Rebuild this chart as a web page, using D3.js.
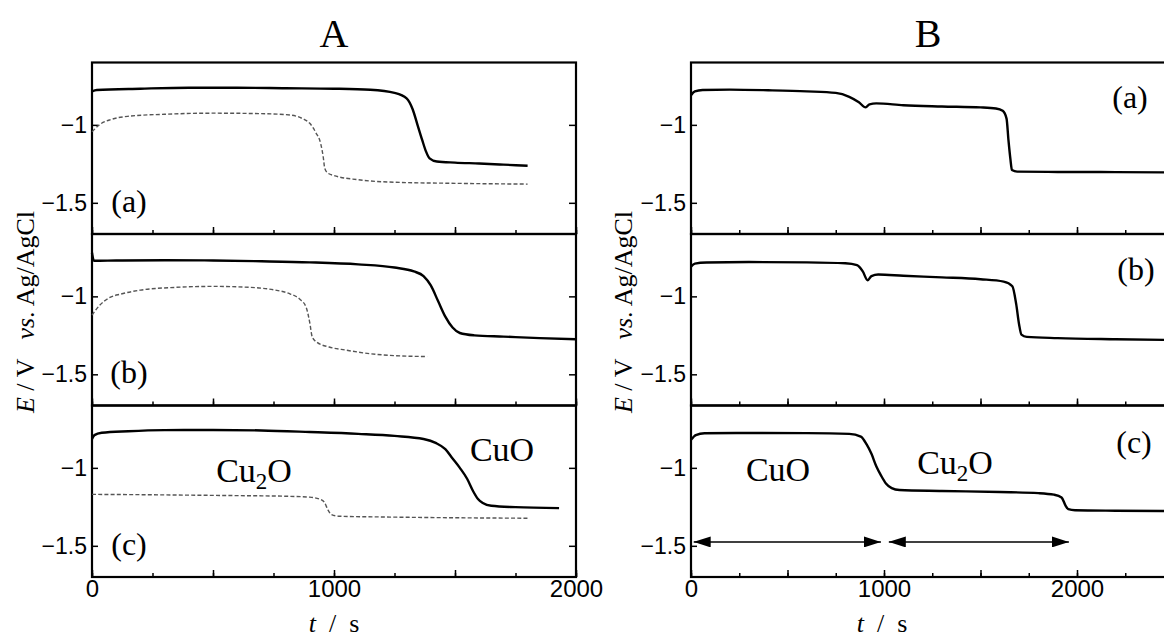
<!DOCTYPE html>
<html><head><meta charset="utf-8">
<script src="https://cdn.jsdelivr.net/npm/d3@7"></script>
<style>
body{margin:0;background:#fff;}
svg{display:block;}
</style></head>
<body><svg id="c" width="1164" height="641"></svg>
<script>
// ---- data (t in s, E in V vs Ag/AgCl) ----
const yTicks = [-1, -1.5];
const xTickLabels = [0, 1000, 2000];
const panelTitles = ["A", "B"];
const panelLetters = ["(a)", "(b)", "(c)"];

const A_a_solid = [[0,-0.785],[20,-0.776],[200,-0.768],[400,-0.762],[600,-0.762],[800,-0.765],[1000,-0.768],[1150,-0.775],[1250,-0.795],[1300,-0.83],[1325,-0.9],[1345,-1.0],[1365,-1.1],[1380,-1.17],[1395,-1.215],[1425,-1.235],[1500,-1.242],[1600,-1.248],[1700,-1.255],[1800,-1.262]];
const A_a_dash = [[0,-1.045],[30,-1.0],[80,-0.965],[150,-0.945],[300,-0.932],[500,-0.925],[700,-0.928],[820,-0.937],[870,-0.96],[900,-0.99],[925,-1.05],[945,-1.12],[955,-1.2],[962,-1.28],[975,-1.31],[1000,-1.325],[1100,-1.352],[1250,-1.368],[1500,-1.375],[1800,-1.38]];
const A_b_solid = [[0,-0.72],[8,-0.772],[100,-0.77],[300,-0.768],[500,-0.77],[700,-0.775],[900,-0.782],[1100,-0.795],[1250,-0.815],[1330,-0.84],[1370,-0.87],[1400,-0.93],[1430,-1.03],[1460,-1.13],[1490,-1.2],[1520,-1.235],[1580,-1.25],[1700,-1.258],[1850,-1.268],[2000,-1.275]];
const A_b_dash = [[0,-1.12],[30,-1.06],[70,-1.01],[120,-0.985],[200,-0.96],[350,-0.942],[500,-0.936],[650,-0.942],[750,-0.958],[820,-0.985],[860,-1.02],[885,-1.07],[900,-1.17],[910,-1.26],[930,-1.295],[980,-1.325],[1050,-1.345],[1150,-1.368],[1250,-1.38],[1385,-1.386]];
const A_c_solid = [[0,-0.815],[10,-0.79],[40,-0.775],[150,-0.765],[300,-0.758],[500,-0.757],[700,-0.76],[900,-0.77],[1100,-0.782],[1250,-0.795],[1370,-0.815],[1420,-0.84],[1460,-0.88],[1490,-0.94],[1520,-1.0],[1550,-1.07],[1575,-1.15],[1595,-1.2],[1615,-1.225],[1650,-1.243],[1750,-1.252],[1930,-1.258]];
const A_c_dash = [[0,-1.17],[200,-1.172],[400,-1.175],[600,-1.178],[800,-1.182],[900,-1.188],[940,-1.2],[960,-1.22],[975,-1.27],[990,-1.3],[1020,-1.31],[1200,-1.315],[1500,-1.32],[1800,-1.323]];
const B_a = [[0,-0.81],[20,-0.785],[60,-0.776],[200,-0.774],[400,-0.778],[600,-0.785],[750,-0.795],[820,-0.82],[870,-0.855],[905,-0.888],[925,-0.868],[960,-0.862],[1100,-0.874],[1300,-0.882],[1500,-0.888],[1580,-0.895],[1615,-0.91],[1635,-0.96],[1645,-1.1],[1655,-1.22],[1663,-1.29],[1690,-1.3],[1900,-1.302],[2200,-1.303],[2500,-1.305]];
const B_b = [[0,-0.81],[20,-0.79],[80,-0.783],[300,-0.78],[600,-0.782],[800,-0.788],[860,-0.8],[890,-0.84],[915,-0.897],[935,-0.87],[970,-0.86],[1100,-0.868],[1300,-0.878],[1500,-0.89],[1620,-0.905],[1665,-0.935],[1685,-1.05],[1700,-1.18],[1712,-1.245],[1740,-1.26],[1900,-1.268],[2200,-1.275],[2500,-1.28]];
const B_c = [[0,-0.82],[25,-0.79],[70,-0.778],[300,-0.776],[600,-0.777],[820,-0.782],[880,-0.8],[910,-0.85],[935,-0.91],[960,-0.99],[985,-1.05],[1010,-1.1],[1040,-1.13],[1080,-1.142],[1300,-1.148],[1600,-1.155],[1800,-1.162],[1880,-1.172],[1920,-1.19],[1940,-1.24],[1955,-1.265],[1990,-1.272],[2200,-1.275],[2500,-1.277]];
const B_arrows = [[14, 984], [1025, 1958]];
const B_arrowE = -1.475;

// ---- layout ----
const svg = d3.select("#c");
const SERIF = "'Liberation Serif','Times New Roman',serif";
const SANS = "'Liberation Sans',Arial,sans-serif";
const panelTop = [62.5, 234, 405.5];
const panelH = 171.5;
const xL = d3.scaleLinear().domain([0, 2000]).range([92, 576]);
const xR = d3.scaleLinear().domain([0, 2500]).range([691, 691 + 2500 * 0.193]);
const yScale = i => d3.scaleLinear().domain([-1.7, -0.6]).range([panelTop[i] + panelH, panelTop[i]]);
const fmtY = d3.format("~g");

svg.append("defs").append("marker")
  .attr("id", "ah").attr("viewBox", "0 0 17 11").attr("refX", 17).attr("refY", 5.5)
  .attr("markerWidth", 17).attr("markerHeight", 11).attr("markerUnits", "userSpaceOnUse")
  .attr("orient", "auto-start-reverse")
  .append("path").attr("d", "M0,0L17,5.5L0,11Z").attr("fill", "#000");

function drawPlot(x, series, dashes, letters, letterPos, rightTicks) {
  for (let i = 0; i < 3; i++) {
    const y = yScale(i);
    const g = svg.append("g");
    const minor = d3.range(0, x.domain()[1] + 1, 250);
    g.append("g").attr("transform", `translate(0,${panelTop[i] + panelH})`)
      .call(d3.axisBottom(x).tickValues(minor).tickSize(-4).tickFormat(""))
      .call(s => s.select(".domain").remove());
    const major = d3.range(0, x.domain()[1] + 1, 500);
    g.append("g").attr("transform", `translate(0,${panelTop[i] + panelH})`)
      .call(d3.axisBottom(x).tickValues(major).tickSize(-7).tickPadding(3)
        .tickFormat(d => (i === 2 && xTickLabels.includes(d)) ? d : ""))
      .call(s => s.select(".domain").remove())
      .call(s => s.selectAll("text").attr("font-family", SANS).attr("font-size", 24).attr("fill", "#000"));
    g.append("g").attr("transform", `translate(${x.range()[0]},0)`)
      .call(d3.axisLeft(y).tickValues(yTicks).tickSize(-6).tickPadding(5).tickFormat(fmtY))
      .call(s => s.select(".domain").remove())
      .call(s => s.selectAll("text").attr("font-family", SANS).attr("font-size", 23).attr("fill", "#000"));
    if (rightTicks) {
      g.append("g").attr("transform", `translate(${x.range()[1]},0)`)
        .call(d3.axisRight(y).tickValues(yTicks).tickSize(-7).tickFormat(""))
        .call(s => s.select(".domain").remove());
    }
    g.selectAll(".tick line").attr("stroke", "#000").attr("stroke-width", 1.5);
    g.append("rect").attr("x", x.range()[0]).attr("y", panelTop[i])
      .attr("width", x.range()[1] - x.range()[0]).attr("height", panelH)
      .attr("fill", "none").attr("stroke", "#000").attr("stroke-width", 2.2);
    const line = d3.line().x(d => x(d[0])).y(d => y(d[1])).curve(d3.curveMonotoneX);
    if (dashes && dashes[i]) {
      g.append("path").datum(dashes[i]).attr("d", line).attr("fill", "none")
        .attr("stroke", "#555").attr("stroke-width", 1.4).attr("stroke-dasharray", "4,2.2");
    }
    g.append("path").datum(series[i]).attr("d", line).attr("fill", "none")
      .attr("stroke", "#000").attr("stroke-width", 2.4).attr("stroke-linejoin", "round");
    g.append("text").attr("x", letterPos[i][0]).attr("y", letterPos[i][1])
      .attr("text-anchor", "middle").attr("font-family", SERIF).attr("font-size", 32)
      .text(letters[i]);
  }
}

drawPlot(xL, [A_a_solid, A_b_solid, A_c_solid], [A_a_dash, A_b_dash, A_c_dash], panelLetters,
  [[129, 212], [129, 383], [129, 555]], true);
drawPlot(xR, [B_a, B_b, B_c], null, panelLetters,
  [[1130, 108], [1136, 280], [1134, 453]], false);

const yc = yScale(2);
svg.selectAll(".arr").data(B_arrows).join("line").attr("class", "arr")
  .attr("x1", d => xR(d[0])).attr("x2", d => xR(d[1]))
  .attr("y1", yc(B_arrowE)).attr("y2", yc(B_arrowE))
  .attr("stroke", "#000").attr("stroke-width", 1.5)
  .attr("marker-start", "url(#ah)").attr("marker-end", "url(#ah)");

svg.append("text").attr("x", 334).attr("y", 47).attr("text-anchor", "middle")
  .attr("font-family", SERIF).attr("font-size", 40).text(panelTitles[0]);
svg.append("text").attr("x", 928).attr("y", 47).attr("text-anchor", "middle")
  .attr("font-family", SERIF).attr("font-size", 40).text(panelTitles[1]);

function species(x0, y0, parts) {
  const t = svg.append("text").attr("x", x0).attr("y", y0).attr("text-anchor", "middle")
    .attr("font-family", SERIF).attr("font-size", 34);
  t.append("tspan").text("Cu");
  if (parts) {
    t.append("tspan").attr("font-size", 23).attr("dy", 7).text("2");
    t.append("tspan").attr("dy", -7).text("O");
  } else t.append("tspan").text("O");
}
species(254, 482, true);
species(502, 461, false);
species(778, 481, false);
species(955, 474, true);

function yLabel(cx, cy) {
  const t = svg.append("text").attr("transform", `translate(${cx},${cy}) rotate(-90)`)
    .attr("text-anchor", "middle").attr("font-family", SERIF).attr("font-size", 26)
    .attr("dominant-baseline", "central").attr("xml:space", "preserve");
  t.append("tspan").attr("font-style", "italic").text("E");
  t.append("tspan").text(" / V   ");
  t.append("tspan").attr("font-style", "italic").text("vs");
  t.append("tspan").text(". Ag/AgCl");
}
yLabel(25, 312);
yLabel(623, 312);
function xLabel(cx) {
  const t = svg.append("text").attr("x", cx).attr("y", 632).attr("text-anchor", "middle")
    .attr("font-family", SERIF).attr("font-size", 26).attr("xml:space", "preserve");
  t.append("tspan").attr("font-style", "italic").text("t");
  t.append("tspan").text("  /  s");
}
xLabel(334);
xLabel(882);
</script></body></html>
